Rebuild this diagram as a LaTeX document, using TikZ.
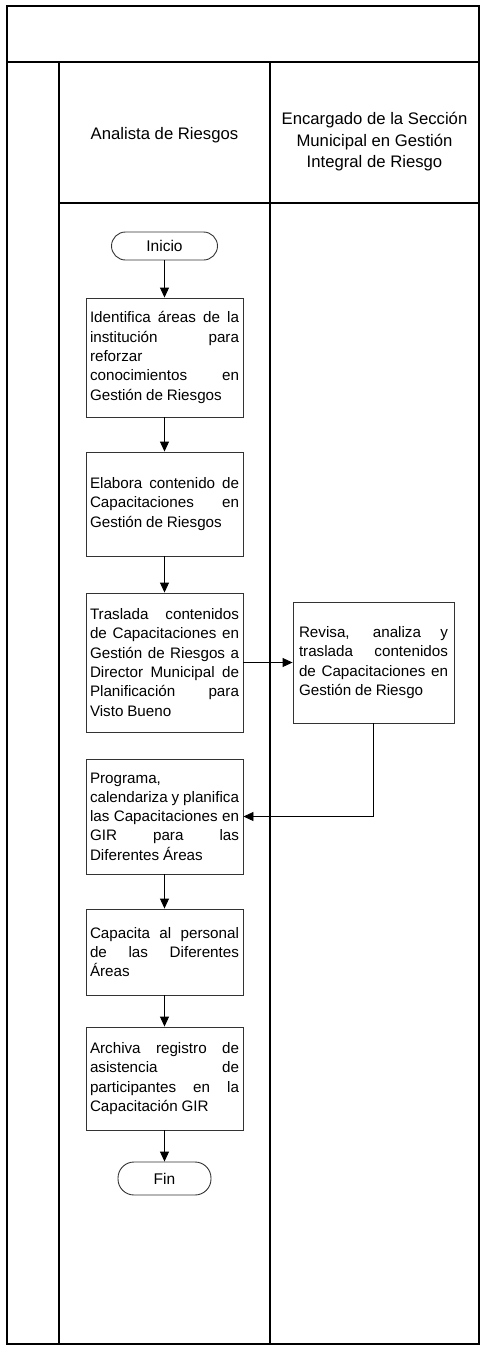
\documentclass[tikz,border=0pt]{standalone}
\usepackage{fontspec}
\setmainfont{Liberation Sans}
\usetikzlibrary{arrows.meta}
\newcommand\jsp{\spaceskip=3.8pt plus 15pt minus 1.2pt\relax}
\begin{document}
\begin{tikzpicture}[x=1pt,y=-1pt,
  frame/.style={line width=1.2pt, draw=black},
  proc/.style={draw=black!80, line width=0.9pt, text width=149pt, inner xsep=4pt, inner ysep=0pt,
    align=justify, font=\fontsize{15.2}{19.3}\selectfont},
  term/.style={draw=black!80, line width=0.9pt, inner sep=0pt, font=\fontsize{15.5}{18}\selectfont},
  flow/.style={line width=0.9pt, -{Triangle[length=10pt,width=9pt]}},
  head/.style={align=center, font=\fontsize{16.7}{21.7}\selectfont}]
\hyphenpenalty=10000 \tolerance=10000
\useasboundingbox (0,0) rectangle (481,1345);
% frame
\draw[frame] (7,6) rectangle (479,1344);
\draw[frame] (7,62) -- (479,62);
\draw[frame] (59,62) -- (59,1344);
\draw[frame] (270,62) -- (270,1344);
\draw[frame] (59,203) -- (479,203);
% headers
\node[head] (h1) at (164.5,135) {Analista de Riesgos};
\node[head] (h2) at (374.5,141.7) {Encargado de la Sección\\Municipal en Gestión\\Integral de Riesgo};
% nodes
\node[term, minimum width=106pt, minimum height=28pt, rounded corners=14pt] (ini) at (164.5,246) {Inicio};
\node[proc, minimum height=119pt] (b1) at (164.5,357.5) {\jsp Identifica áreas de la\linebreak institución para\linebreak reforzar\newline conocimientos en\linebreak Gestión de Riesgos};
\node[proc, minimum height=104pt] (b2) at (164.5,504) {\jsp Elabora contenido de\linebreak Capacitaciones en\linebreak Gestión de Riesgos};
\node[proc, minimum height=139pt] (b3) at (164.5,662.5) {\jsp Traslada contenidos\linebreak de Capacitaciones en\linebreak Gestión de Riesgos a\linebreak Director Municipal de\linebreak Planificación para\linebreak Visto Bueno};
\node[proc, inner xsep=6pt, minimum height=121pt] (b4) at (373.5,662.5) {\jsp Revisa, analiza y\linebreak traslada contenidos\linebreak de Capacitaciones en\linebreak Gestión de Riesgo};
\node[proc, minimum height=115pt] (b5) at (164.5,816.5) {\jsp Programa,\newline calendariza y planifica\linebreak las Capacitaciones en\linebreak GIR para las\linebreak Diferentes Áreas};
\node[proc, minimum height=86pt] (b6) at (164.5,952) {\jsp Capacita al personal\linebreak de las Diferentes\linebreak Áreas};
\node[proc, minimum height=103pt] (b7) at (164.5,1078.5) {\jsp Archiva registro de\linebreak asistencia de\linebreak participantes en la\linebreak Capacitación GIR};
\node[term, minimum width=93pt, minimum height=33pt, rounded corners=16pt] (fin) at (164.5,1178.5) {Fin};
% connectors
\draw[flow] (ini) -- (b1);
\draw[flow] (b1) -- (b2);
\draw[flow] (b2) -- (b3);
\draw[flow] (b3) -- (b4);
\draw[flow] (b4.south) |- (b5.east);
\draw[flow] (b5) -- (b6);
\draw[flow] (b6) -- (b7);
\draw[flow] (b7) -- (fin);
\end{tikzpicture}
\end{document}
